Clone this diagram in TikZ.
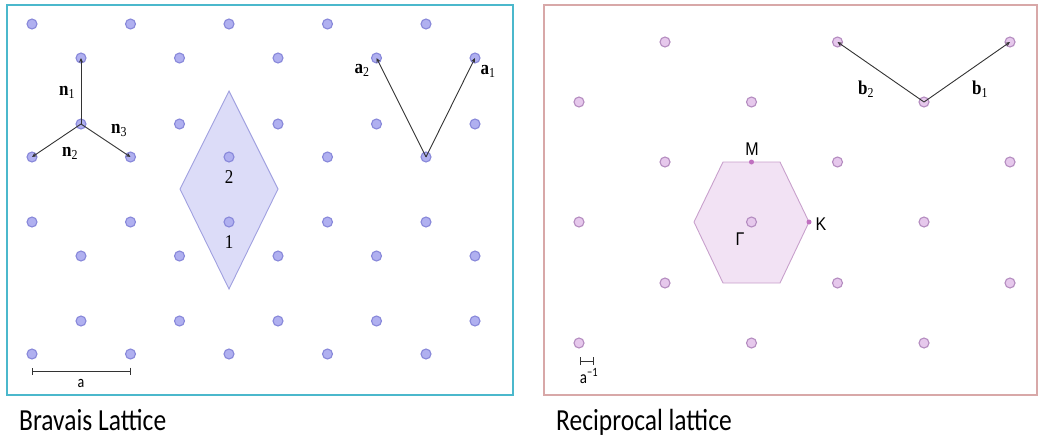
\documentclass[tikz,border=0pt]{standalone}
\usepackage{fontspec}
\setmainfont{Liberation Serif}
\newfontfamily\capfont{Carlito}
\newfontfamily\lblsans{Liberation Sans}
\usetikzlibrary{arrows.meta}
\definecolor{bptfill}{HTML}{B0B0F0}
\definecolor{bptdraw}{HTML}{8888DA}
\definecolor{rhfill}{HTML}{DCDCF8}
\definecolor{rhdraw}{HTML}{A0A0E0}
\definecolor{pptfill}{HTML}{E6C8EC}
\definecolor{pptdraw}{HTML}{B48CC0}
\definecolor{hxfill}{HTML}{F2E2F4}
\definecolor{hxdraw}{HTML}{C8A0CC}
\definecolor{hxdot}{HTML}{C070C0}
\definecolor{frameL}{HTML}{4BB8CC}
\definecolor{frameR}{HTML}{D8A8A8}
\definecolor{vecgray}{HTML}{333333}
\begin{document}
\begin{tikzpicture}[x=1pt,y=-1pt,
  bpt/.style={circle,draw=bptdraw,fill=bptfill,line width=1.1pt,minimum size=10pt,inner sep=0pt},
  ppt/.style={circle,draw=pptdraw,fill=pptfill,line width=1.1pt,minimum size=10pt,inner sep=0pt},
  sdot/.style={circle,fill=hxdot,minimum size=5pt,inner sep=0pt},
  vec/.style={draw=vecgray,line width=0.9pt,-{Stealth[length=4.5pt,width=4pt]}},
  sbar/.style={draw=vecgray,line width=0.9pt,{Bar[width=7pt]}-{Bar[width=7pt]}},
  vlbl/.style={inner sep=0pt,font=\fontsize{17}{17}\selectfont},
  slbl/.style={inner sep=0pt,font=\lblsans\fontsize{16}{16}\selectfont},
  captext/.style={inner sep=0pt,anchor=base west,font=\capfont\fontsize{25.5}{25.5}\selectfont}]
\useasboundingbox (0,0) rectangle (1041,439);
% frames
\draw[frameL,line width=2pt] (7,5) rectangle (513,395);
\draw[frameR,line width=1.5pt] (544,5) rectangle (1037,395);
% rhombus (unit cell)
\path[draw=rhdraw,fill=rhfill,line width=0.9pt] (229,91) -- (278,189) -- (229,289) -- (180,189) -- cycle;
% Bravais lattice points
\foreach \y [count=\r] in {24,157,222,354}
  \foreach \x [count=\c] in {32,130.5,229,327.5,426}
    \node[bpt] (A\r\c) at (\x,\y) {};
\foreach \y [count=\r] in {58,124,256,321}
  \foreach \x [count=\c] in {81,179.5,278,376.5,475}
    \node[bpt] (B\r\c) at (\x,\y) {};
% nearest neighbour vectors
\draw[vec] (B21.center) -- (B11.center);
\draw[vec] (B21.center) -- (A21.center);
\draw[vec] (B21.center) -- (A22.center);
\node[vlbl] (ln1) at (67,92) {\scalebox{1}[1.15]{\textbf{n}\textsubscript{1}}};
\node[vlbl] (ln2) at (70,153) {\scalebox{1}[1.15]{\textbf{n}\textsubscript{2}}};
\node[vlbl] (ln3) at (119,130) {\scalebox{1}[1.15]{\textbf{n}\textsubscript{3}}};
% primitive vectors
\draw[vec] (A25.center) -- (B14.center);
\draw[vec] (A25.center) -- (B15.center);
\node[vlbl] (la2) at (362,70) {\scalebox{1}[1.15]{\textbf{a}\textsubscript{2}}};
\node[vlbl] (la1) at (488,71) {\scalebox{1}[1.15]{\textbf{a}\textsubscript{1}}};
% basis labels
\node[vlbl] (l2) at (229,177) {\scalebox{1}[1.15]{2}};
\node[vlbl] (l1) at (229,242) {\scalebox{1}[1.15]{1}};
% scale bar a
\coordinate (sa1) at (32,371);
\coordinate (sa2) at (130.5,371);
\draw[sbar] (sa1) -- (sa2);
\node[slbl,font=\capfont\fontsize{14}{14}\selectfont] (la) at (81,383) {\scalebox{1}[1.2]{a}};
% reciprocal: hexagon
\path[draw=hxdraw,fill=hxfill,line width=0.9pt] (694,222) -- (723,162) -- (780,162) -- (809,222) -- (780,283) -- (723,283) -- cycle;
\foreach \y [count=\r] in {102,222,343}
  \foreach \x [count=\c] in {579,751.5,924}
    \node[ppt] (RA\r\c) at (\x,\y) {};
\foreach \y [count=\r] in {42,162,283}
  \foreach \x [count=\c] in {665,837.5,1010}
    \node[ppt] (RB\r\c) at (\x,\y) {};
\node[sdot] (M) at (751.5,162) {};
\node[sdot] (K) at (809,222) {};
\node[slbl] (lM) at (752,149) {\scalebox{1}[1.15]{M}};
\node[slbl] (lK) at (821,224) {\scalebox{1}[1.15]{K}};
\node[slbl] (lG) at (740,239) {\scalebox{1}[1.15]{Γ}};
% reciprocal vectors
\draw[vec] (RA13.center) -- (RB12.center);
\draw[vec] (RA13.center) -- (RB13.center);
\node[vlbl] (lb2) at (866,89) {\scalebox{1}[1.15]{\textbf{b}\textsubscript{2}}};
\node[vlbl] (lb1) at (980,89) {\scalebox{1}[1.15]{\textbf{b}\textsubscript{1}}};
% scale bar a^-1
\coordinate (sb1) at (580,361);
\coordinate (sb2) at (594,361);
\draw[sbar,{Bar[width=8pt]}-{Bar[width=8pt]}] (sb1) -- (sb2);
\node[slbl,font=\capfont\fontsize{15}{15}\selectfont] (lainv) at (589,376) {\scalebox{1}[1.2]{a\textsuperscript{\char"2212 1}}};
% captions
\node[captext] (c1) at (19,430) {\scalebox{1}[1.2]{Bravais Lattice}};
\node[captext] (c2) at (556,430) {\scalebox{1}[1.2]{Reciprocal lattice}};
\end{tikzpicture}
\end{document}
